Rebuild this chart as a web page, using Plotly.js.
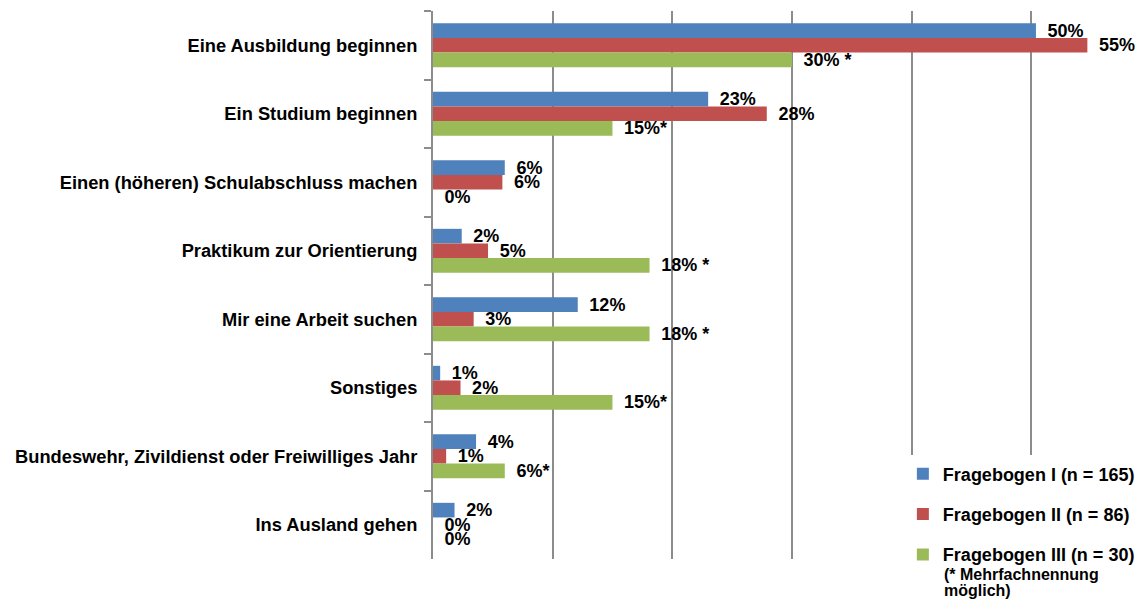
<!DOCTYPE html>
<html><head><meta charset="utf-8">
<script src="https://cdn.plot.ly/plotly-3.0.1.min.js"></script>
<style>html,body{margin:0;padding:0;background:#fff}#chart{width:1147px;height:602px}</style>
</head><body><div id="chart"></div>
<script>
const categories = [
  "Eine Ausbildung beginnen",
  "Ein Studium beginnen",
  "Einen (höheren) Schulabschluss machen",
  "Praktikum zur Orientierung",
  "Mir eine Arbeit suchen",
  "Sonstiges",
  "Bundeswehr, Zivildienst oder Freiwilliges Jahr",
  "Ins Ausland gehen"
];
const seriesNames = ["Fragebogen I (n = 165)", "Fragebogen II (n = 86)", "Fragebogen III (n = 30)"];
const valuesI   = [50.4, 23.0, 6.0, 2.4, 12.1, 0.6, 3.6, 1.8];
const valuesII  = [54.7, 27.9, 5.8, 4.6, 3.4, 2.3, 1.1, 0];
const valuesIII = [30.0, 15.0, 0, 18.1, 18.1, 15.0, 6.0, 0];
const labelsI   = ["50%", "23%", "6%", "2%", "12%", "1%", "4%", "2%"];
const labelsII  = ["55%", "28%", "6%", "5%", "3%", "2%", "1%", "0%"];
const labelsIII = ["30% *", "15%*", "0%", "18% *", "18% *", "15%*", "6%*", "0%"];
const noteLines = ["(* Mehrfachnennung", "möglich)"];

const colors = ["#4F81BD", "#C0504D", "#9BBB59"];
const FONT = "Liberation Sans, Arial, sans-serif";
const pad = "\u00a0\u2009";

function mk(vals, labels, i) {
  return {
    type: "bar", orientation: "h",
    y: categories, x: vals,
    name: seriesNames[i],
    legendgroup: "g" + i,
    marker: {color: colors[i], line: {width: 0}},
    text: labels.map(s => pad + s),
    textposition: "outside",
    constraintext: "none",
    cliponaxis: false,
    textfont: {family: FONT, size: 18, color: "#000", weight: "bold"},
    hoverinfo: "x+y"
  };
}

const data = [mk(valuesI, labelsI, 0), mk(valuesII, labelsII, 1), mk(valuesIII, labelsIII, 2)];

const noteY = [-0.0274, -0.0566];
const layout = {
  width: 1147, height: 602,
  margin: {l: 433, r: 1, t: 11, b: 43},
  paper_bgcolor: "#fff", plot_bgcolor: "#fff",
  barmode: "group", bargap: 0.36, bargroupgap: 0,
  font: {family: FONT, size: 18, color: "#000", weight: "bold"},
  showlegend: true,
  legend: {
    x: 0.659, xanchor: "left", y: 0.189, yanchor: "top",
    bgcolor: "#fff", borderwidth: 0,
    traceorder: "grouped", tracegroupgap: 14,
    font: {family: FONT, size: 18, color: "#000", weight: "bold"}
  },
  xaxis: {
    range: [0, 59.6], dtick: 10, showticklabels: false,
    showgrid: true, gridcolor: "#8c8c8c", gridwidth: 2,
    zeroline: false, showline: false, ticks: "", fixedrange: true
  },
  yaxis: {
    autorange: "reversed", type: "category",
    showline: true, linecolor: "#8c8c8c", linewidth: 2,
    ticks: "outside", tickson: "boundaries", ticklen: 7, tickwidth: 2, tickcolor: "#8c8c8c",
    ticklabelstandoff: 10,
    showgrid: false, zeroline: false,
    tickfont: {family: FONT, size: 18.3, color: "#000", weight: "bold"}
  },
  annotations: noteLines.map((t, k) => ({
    xref: "paper", yref: "paper", x: 0.7135, y: noteY[k], xanchor: "left", yanchor: "middle",
    text: t, showarrow: false, align: "left",
    font: {family: FONT, size: 16, color: "#000", weight: "bold"}
  }))
};

Plotly.newPlot("chart", data, layout, {displayModeBar: false, responsive: false});
</script>
</body></html>
